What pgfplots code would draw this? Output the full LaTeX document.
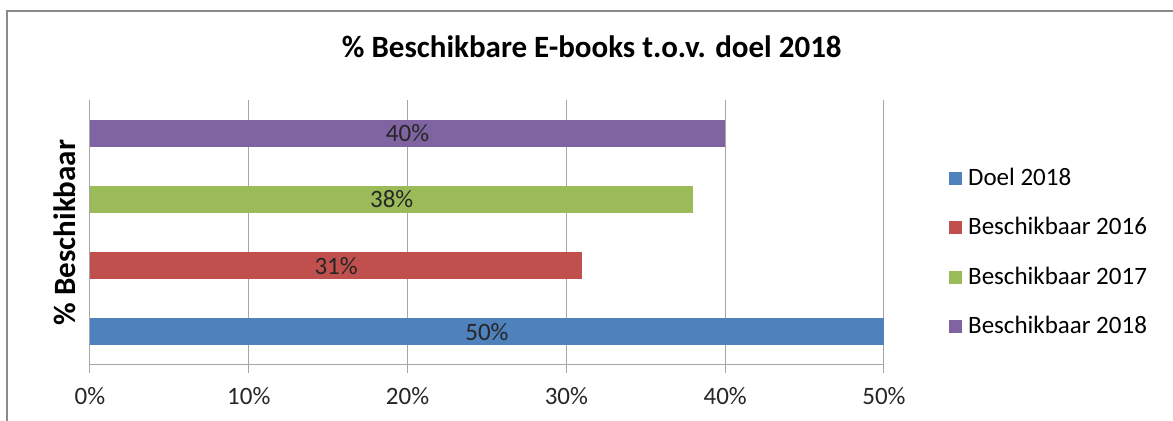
\documentclass[border=0pt]{standalone}
\usepackage{fontspec}
\setmainfont{Carlito}
\usepackage{pgfplots}
\pgfplotsset{compat=1.18}
\definecolor{cblue}{HTML}{4F81BD}
\definecolor{cred}{HTML}{C0504D}
\definecolor{cgreen}{HTML}{9BBB59}
\definecolor{cpurple}{HTML}{8064A2}
\definecolor{gridgray}{HTML}{A6A6A6}
\definecolor{framegray}{HTML}{8A8A8A}
\begin{document}
\begin{tikzpicture}
\useasboundingbox (-45pt,-28pt) rectangle (541.5pt,182.5pt);
\draw[framegray, line width=1pt] (-41.5pt,-40pt) -- (-41.5pt,177pt) -- (560pt,177pt);
\begin{axis}[
    at={(0,0)}, anchor=south west,
    scale only axis, width=397pt, height=132.5pt,
    xmin=0, xmax=50, ymin=-0.5, ymax=3.5,
    axis x line*=bottom, axis y line*=left,
    axis line style={draw=gridgray, line width=0.5pt, -},
    xtick={0,10,...,50}, ytick=\empty,
    xticklabel={\pgfmathprintnumber{\tick}\%},
    /pgf/number format/assume math mode=true,
    tick align=outside, major tick length=4pt,
    tick style={draw=gridgray, line width=0.5pt},
    xmajorgrids, grid style={draw=gridgray, line width=0.5pt},
    ticklabel style={font=\fontsize{12.5}{15}\selectfont, text=black!85},
    xticklabel style={yshift=-3.5pt},
    title={\% Beschikbare E-books t.o.v. doel 2018},
    title style={at={(axis description cs:0.632,1.154)}, anchor=center,
        font=\bfseries\fontsize{15.5}{18}\selectfont},
    ylabel={\% Beschikbaar},
    ylabel style={at={(axis description cs:-0.0315,0.5)}, anchor=center,
        font=\bfseries\fontsize{15.5}{18}\selectfont},
    legend style={draw=none, at={(axis description cs:1.074,0.425)}, anchor=west,
        font=\fontsize{12.5}{15}\selectfont, row sep=11.5pt,
        nodes={inner sep=1.5pt}},
    legend cell align=left,
    legend image code/.code={\path[#1, draw=none] (0pt,-3.25pt) rectangle (6.5pt,3.25pt);
        \path (8pt,0pt);},
    mybar/.style={xbar, bar width=13.5pt, bar shift=0pt, draw=none, fill=#1},
]
\addplot[mybar=cblue] coordinates {(50,0)};
\addlegendentry{Doel 2018}
\addplot[mybar=cred] coordinates {(31,1)};
\addlegendentry{Beschikbaar 2016}
\addplot[mybar=cgreen] coordinates {(38,2)};
\addlegendentry{Beschikbaar 2017}
\addplot[mybar=cpurple] coordinates {(40,3)};
\addlegendentry{Beschikbaar 2018}
% value labels, centred on each bar
\addplot[forget plot, only marks, mark=none, nodes near coords,
    point meta=explicit symbolic,
    every node near coord/.append style={anchor=center, font=\fontsize{12.5}{15}\selectfont, text=black!85}]
    table[x=x, y=y, meta=lab] {
x    y  lab
25   0  50\%
15.5 1  31\%
19   2  38\%
20   3  40\%
};
\end{axis}
\end{tikzpicture}
\end{document}
